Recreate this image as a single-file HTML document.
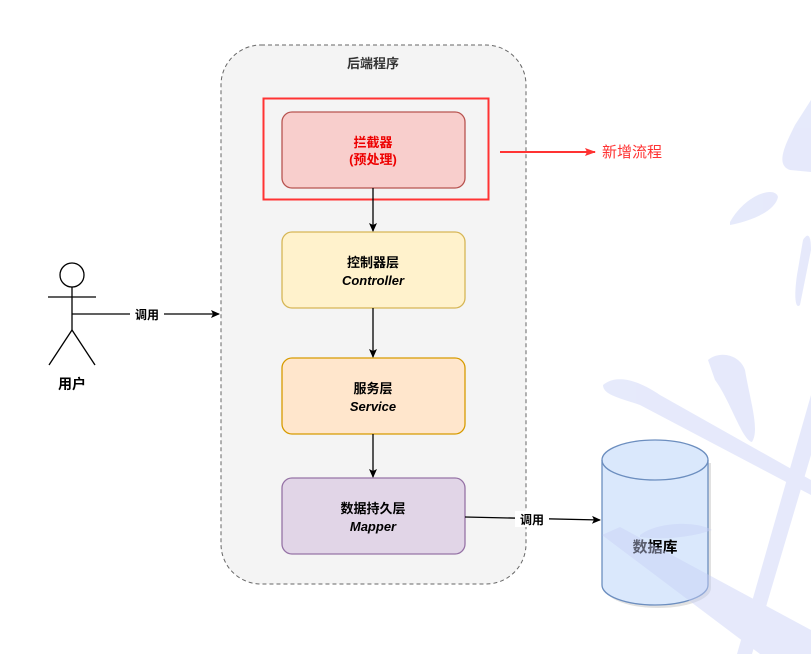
<!DOCTYPE html>
<html><head><meta charset="utf-8"><style>
html,body{margin:0;padding:0;background:#fff;overflow:hidden;width:811px;height:654px}
svg{display:block}
text{font-family:"Liberation Sans","Noto Sans CJK SC",sans-serif;font-weight:bold}
.n{font-weight:normal}
</style></head><body>
<svg width="811" height="654" viewBox="0 0 811 654" xmlns="http://www.w3.org/2000/svg">
<defs>
<marker id="a" markerWidth="10" markerHeight="10" refX="8" refY="5" orient="auto" markerUnits="userSpaceOnUse"><path d="M0,1 L9,5 L0,9 L2,5 Z" fill="#000"/></marker>
<marker id="r" markerWidth="12" markerHeight="10" refX="10" refY="5" orient="auto" markerUnits="userSpaceOnUse"><path d="M0,1 L11,5 L0,9 L2,5 Z" fill="#f33"/></marker>
</defs>
<rect x="221" y="45" width="305" height="539" rx="40" fill="#f4f4f4" stroke="#666" stroke-dasharray="4,3"/>
<text x="373" y="68" font-size="13" text-anchor="middle" fill="#333">后端程序</text>
<rect x="263.5" y="98.5" width="225" height="101" fill="none" stroke="#f33" stroke-width="2"/>
<g stroke-width="1.3">
<rect x="282" y="112" width="183" height="76" rx="10" fill="#f8cecc" stroke="#b85450"/>
<rect x="282" y="232" width="183" height="76" rx="10" fill="#fff2cc" stroke="#d6b656"/>
<rect x="282" y="358" width="183" height="76" rx="10" fill="#ffe6cc" stroke="#d79b00"/>
<rect x="282" y="478" width="183" height="76" rx="10" fill="#e1d5e7" stroke="#9673a6"/>
</g>
<g font-size="13" text-anchor="middle">
<text x="373" y="147" fill="#e00">拦截器</text><text x="373" y="164" fill="#e00">(预处理)</text>
<text x="373" y="267">控制器层</text><text x="373" y="285" font-style="italic">Controller</text>
<text x="373" y="393">服务层</text><text x="373" y="411" font-style="italic">Service</text>
<text x="373" y="513">数据持久层</text><text x="373" y="531" font-style="italic">Mapper</text>
</g>
<g stroke="#000" stroke-width="1.3" fill="none">
<line x1="373" y1="188" x2="373" y2="231" marker-end="url(#a)"/>
<line x1="373" y1="308" x2="373" y2="357" marker-end="url(#a)"/>
<line x1="373" y1="434" x2="373" y2="477" marker-end="url(#a)"/>
<line x1="72" y1="314" x2="219" y2="314" marker-end="url(#a)"/>
<line x1="465" y1="517" x2="600" y2="520" marker-end="url(#a)"/>
</g>
<line x1="500" y1="152" x2="595" y2="152" stroke="#f33" stroke-width="2" marker-end="url(#r)"/>
<text x="602" y="157" font-size="15" class="n" fill="#f33">新增流程</text>
<rect x="130" y="306" width="34" height="16" fill="#fff"/>
<text x="147" y="319" font-size="12" text-anchor="middle">调用</text>
<rect x="515" y="511" width="34" height="16" fill="#fff"/>
<text x="532" y="524" font-size="12" text-anchor="middle">调用</text>
<g stroke="#000" stroke-width="1.3" fill="#fff">
<circle cx="72" cy="275" r="12"/>
<line x1="72" y1="287" x2="72" y2="330"/>
<line x1="48" y1="297" x2="96" y2="297"/>
<line x1="72" y1="330" x2="49" y2="365"/>
<line x1="72" y1="330" x2="95" y2="365"/>
</g>
<text x="72" y="389" font-size="14" text-anchor="middle">用户</text>
<path d="M602,460 L602,585 A53,20 0 0 0 708,585 L708,460 Z" fill="#c3c3c3" opacity="0.5" transform="translate(3,3)"/>
<path d="M602,460 L602,585 A53,20 0 0 0 708,585 L708,460 A53,20 0 0 0 602,460 Z" fill="#dae8fc" stroke="#6c8ebf" stroke-width="1.3"/>
<path d="M602,460 A53,20 0 0 0 708,460" fill="none" stroke="#6c8ebf" stroke-width="1.3"/>
<text x="655" y="552" font-size="15" text-anchor="middle">数据库</text>
<g fill="#c8d0f7" opacity="0.45">
<path d="M811,100 L795,125 C785,145 775,165 790,170 L811,172 Z"/>
<path d="M730,222 C745,195 775,185 778,197 C775,212 748,222 730,225 Z"/>
<path d="M803,240 C808,232 811,235 811,250 L800,305 C795,310 794,295 797,275 Z"/>
<path d="M603,385 C615,375 635,378 660,395 L811,480 L811,495 L640,405 C620,398 603,395 603,385 Z"/>
<path d="M708,360 C720,350 740,355 745,370 C750,400 760,430 752,442 C742,440 730,400 715,380 Z"/>
<path d="M602,535 L620,527 L811,630 L811,654 L760,654 Z"/>
<path d="M811,395 L737,654 L752,654 L811,455 Z"/>
<path d="M640,535 C660,520 700,522 712,530 C690,538 660,540 640,537 Z"/>
</g>
</svg>
</body></html>
